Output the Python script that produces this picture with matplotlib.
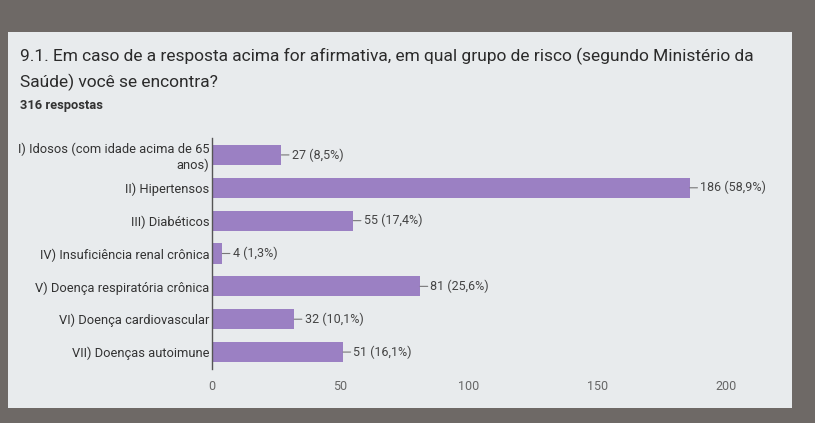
import matplotlib.pyplot as plt
from matplotlib.patches import Rectangle

plt.rcParams['font.family'] = ['Roboto', 'DejaVu Sans']

title = ("9.1. Em caso de a resposta acima for afirmativa, em qual grupo de risco (segundo Ministério da\n"
         "Saúde) você se encontra?")
total = 316
categories = [
    "I) Idosos (com idade acima de 65\nanos)",
    "II) Hipertensos",
    "III) Diabéticos",
    "IV) Insuficiência renal crônica",
    "V) Doença respiratória crônica",
    "VI) Doença cardiovascular",
    "VII) Doenças autoimune",
]
counts = [27, 186, 55, 4, 81, 32, 51]
xticks = [0, 50, 100, 150, 200]

W, H = 815, 423
fig = plt.figure(figsize=(W / 100, H / 100), dpi=100)
fig.patch.set_facecolor('#6e6966')

# card behind everything
fig.patches.append(Rectangle((8 / W, 1 - 408 / H), (792 - 8) / W, (408 - 32) / H,
                             transform=fig.transFigure, facecolor='#e8ebed',
                             edgecolor='none', zorder=-5))

fig.text(20 / W, 1 - 48 / H, title, fontsize=12.5, color='#2b2b2b',
         va='top', ha='left', linespacing=1.65)
fig.text(20 / W, 1 - 106 / H, f"{total} respostas", fontsize=9.3,
         color='#333333', va='center', ha='left', fontweight='bold')

ax = fig.add_axes([212 / W, 1 - 368.5 / H, (790 - 212) / W, (368.5 - 138.5) / H])
ax.set_facecolor('none')

pos = list(range(len(categories)))
ax.barh(pos, counts, height=0.61, color='#9b80c3', zorder=2)
ax.set_ylim(len(categories) - 0.5, -0.5)
ax.set_xlim(0, 225)

for i, c in enumerate(counts):
    pct = f"{c / total * 100:.1f}".replace('.', ',')
    ax.annotate(f"{c} ({pct}%)", xy=(c, i), xytext=(7.5, 0),
                textcoords='offset points', va='center', ha='left',
                fontsize=9, color='#444444',
                arrowprops=dict(arrowstyle='-', color='#777777', lw=0.8,
                                shrinkA=0, shrinkB=0))

ax.set_yticks(pos)
ax.set_yticklabels(categories, fontsize=9.3, color='#333333')
ax.set_xticks(xticks)
ax.set_xticklabels([str(t) for t in xticks], fontsize=9, color='#666666')
ax.tick_params(axis='both', length=0)
ax.tick_params(axis='x', pad=8)
ax.tick_params(axis='y', pad=2)

for s in ['top', 'right', 'bottom']:
    ax.spines[s].set_visible(False)
ax.spines['left'].set_color('#555555')
ax.spines['left'].set_linewidth(1.0)

fig.savefig('out.png', dpi=100, facecolor=fig.get_facecolor())
